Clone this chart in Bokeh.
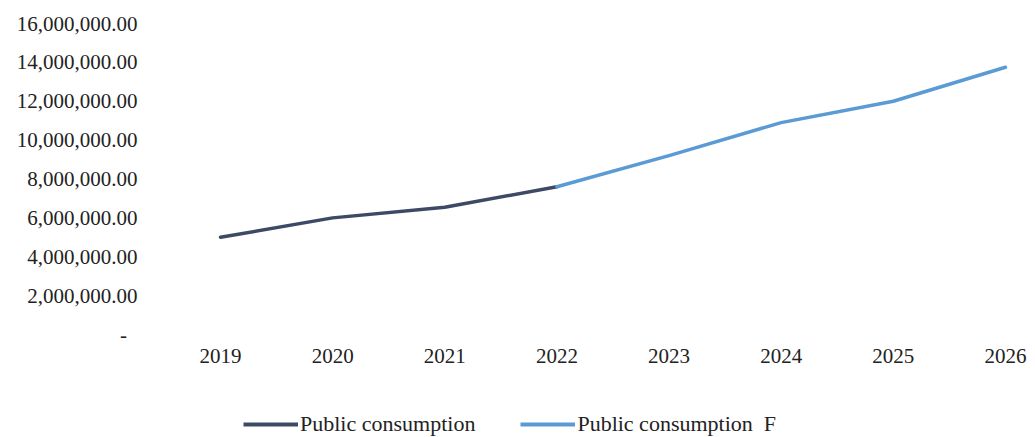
from bokeh.plotting import figure
from bokeh.layouts import column
from bokeh.models import (Range1d, FixedTicker, CustomJSTickFormatter, Legend, LegendItem,
                          ColumnDataSource)
from bokeh.embed import file_html
from bokeh.resources import INLINE

years = [2019, 2020, 2021, 2022, 2023, 2024, 2025, 2026]
year_labels = ["2019", "2020", "2021", "2022", "2023", "2024", "2025", "2026"]
public_years = [2019, 2020, 2021, 2022]
public_values = [5000000, 6000000, 6550000, 7600000]
forecast_years = [2022, 2023, 2024, 2025, 2026]
forecast_values = [7600000, 9200000, 10900000, 12000000, 13750000]
y_ticks = [0, 2000000, 4000000, 6000000, 8000000, 10000000, 12000000, 14000000, 16000000]
series_names = ["Public consumption", "Public consumption  F"]
series_colors = ["#3c4a66", "#5b9bd5"]

FONT = "Liberation Serif"

p = figure(width=1035, height=382, output_backend="svg", toolbar_location=None,
           x_range=Range1d(2018.4025, 2026.268), y_range=Range1d(0, 16000000),
           min_border_left=153, min_border_right=0, min_border_top=23, min_border_bottom=48)
p.outline_line_color = None
p.xgrid.grid_line_color = None
p.ygrid.grid_line_color = None

for ax in (p.xaxis, p.yaxis):
    ax.axis_line_color = None
    ax.major_tick_line_color = None
    ax.minor_tick_line_color = None
    ax.major_label_text_font = FONT
    ax.major_label_text_font_size = "21px"
    ax.major_label_text_color = "#222222"

p.xaxis.ticker = FixedTicker(ticks=years)
p.xaxis.major_label_overrides = {y: l for y, l in zip(years, year_labels)}
p.xaxis.major_label_standoff = 8
p.yaxis.ticker = FixedTicker(ticks=y_ticks)
p.yaxis.major_label_standoff = 10
p.yaxis.formatter = CustomJSTickFormatter(code="""
if (tick == 0) { return "-\u00a0\u00a0"; }
return tick.toLocaleString('en-US', {minimumFractionDigits: 2, maximumFractionDigits: 2});
""")

src1 = ColumnDataSource(dict(x=public_years, y=public_values))
src2 = ColumnDataSource(dict(x=forecast_years, y=forecast_values))
p.line("x", "y", source=src1, line_color=series_colors[0], line_width=3.5,
       line_join="round", line_cap="round")
p.line("x", "y", source=src2, line_color=series_colors[1], line_width=3.5,
       line_join="round", line_cap="round")

# legend strip below the chart (its renderers share the data but lie outside its view)
lg = figure(width=1035, height=55, output_backend="svg", toolbar_location=None,
            x_range=Range1d(0, 1), y_range=Range1d(0, 1),
            x_axis_location=None, y_axis_location=None,
            min_border_left=0, min_border_right=0, min_border_top=0, min_border_bottom=0)
lg.outline_line_color = None
lg.xgrid.grid_line_color = None
lg.ygrid.grid_line_color = None
k1 = lg.line("x", "y", source=src1, line_color=series_colors[0], line_width=4)
k2 = lg.line("x", "y", source=src2, line_color=series_colors[1], line_width=4)

legend = Legend(items=[LegendItem(label=series_names[0], renderers=[k1]),
                       LegendItem(label=series_names[1], renderers=[k2])],
                location=(90, 0), orientation="horizontal",
                glyph_width=55, glyph_height=14, label_height=14, label_standoff=2, spacing=45,
                padding=0, margin=0, border_line_color=None, background_fill_alpha=0,
                label_text_font=FONT, label_text_font_size="22px", label_text_color="#222222")
lg.add_layout(legend, "center")

layout = column(p, lg, spacing=0)
open("out.html", "w").write(file_html(layout, INLINE))
